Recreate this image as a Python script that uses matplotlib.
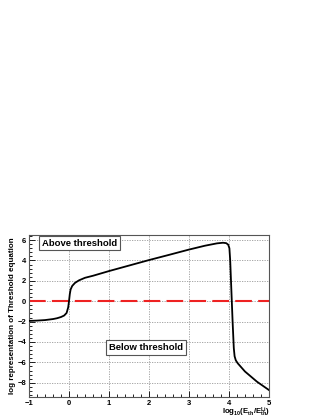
import matplotlib
matplotlib.use("Agg")
import matplotlib.pyplot as plt
from matplotlib.ticker import MultipleLocator

# curve
x_vals = [-1.0, -0.8, -0.6, -0.4, -0.3, -0.2, -0.12, -0.06, -0.02, 0.0, 0.02, 0.04,
          0.08, 0.15, 0.25, 0.4, 0.6, 1.0, 1.5, 2.0, 2.5, 3.0, 3.4, 3.7, 3.85,
          3.93, 3.98, 4.01, 4.03, 4.06, 4.09, 4.12, 4.14, 4.17, 4.22, 4.4, 4.7, 5.0]
y_vals = [-1.93, -1.9, -1.85, -1.75, -1.67, -1.55, -1.4, -1.15, -0.6, 0.0, 0.7, 1.15,
          1.5, 1.8, 2.05, 2.3, 2.5, 2.96, 3.5, 4.04, 4.55, 5.07, 5.45, 5.68, 5.74,
          5.7, 5.55, 5.2, 4.0, 1.0, -2.0, -4.6, -5.4, -5.8, -6.1, -6.9, -7.9, -8.72]

threshold = 0.0
x_lim = (-1, 5)
y_lim = (-9.4, 6.5)

plt.rcParams['font.family'] = ['Liberation Sans', 'DejaVu Sans']
plt.rcParams['mathtext.fontset'] = 'custom'
plt.rcParams['mathtext.rm'] = 'Liberation Sans:bold'
plt.rcParams['mathtext.it'] = 'Liberation Sans:bold'

fig = plt.figure(figsize=(3.23, 4.18), dpi=100)
ax = fig.add_axes([29 / 323, 1 - 397 / 418, 240 / 323, 162 / 418])

ax.plot(x_vals, y_vals, color="black", lw=1.3, zorder=3)
ax.axhline(threshold, color="#ee2222", lw=1.5, ls=(0, (8, 3)), zorder=2)

ax.set_xlim(*x_lim)
ax.set_ylim(*y_lim)
ax.xaxis.set_major_locator(MultipleLocator(1))
ax.xaxis.set_minor_locator(MultipleLocator(0.2))
ax.yaxis.set_major_locator(MultipleLocator(2))
ax.yaxis.set_minor_locator(MultipleLocator(0.4))
ax.tick_params(which="both", direction="in", labelsize=5.5, pad=2, width=0.6)
ax.tick_params(which="major", length=4)
ax.tick_params(which="minor", length=2)
for lab in ax.get_xticklabels() + ax.get_yticklabels():
    lab.set_fontweight("bold")
ax.grid(True, which="major", color="#999999", ls=(0, (1.5, 1.5)), lw=0.6)
for sp in ax.spines.values():
    sp.set_color("#555555")
    sp.set_linewidth(0.8)

box = dict(boxstyle="square,pad=0.3", fc="white", ec="#555555", lw=0.8)
ax.text(-0.68, 5.7, "Above threshold", fontsize=6.8, fontweight="bold",
        va="center", ha="left", bbox=box)
ax.text(1.0, -4.55, "Below threshold", fontsize=6.8, fontweight="bold",
        va="center", ha="left", bbox=box)

ax.set_ylabel("log representation of Threshold equation", fontsize=5.8,
              fontweight="bold")
ax.yaxis.set_label_coords(-0.055, 0.5)
fig.text(270 / 323, 1 - 412 / 418, r"log$_{10}$(E$_{th}$/E$^{Li}_{th}$)",
         fontsize=5.6, fontweight="bold", ha="right", va="center")

fig.savefig("out.png", dpi=100)
